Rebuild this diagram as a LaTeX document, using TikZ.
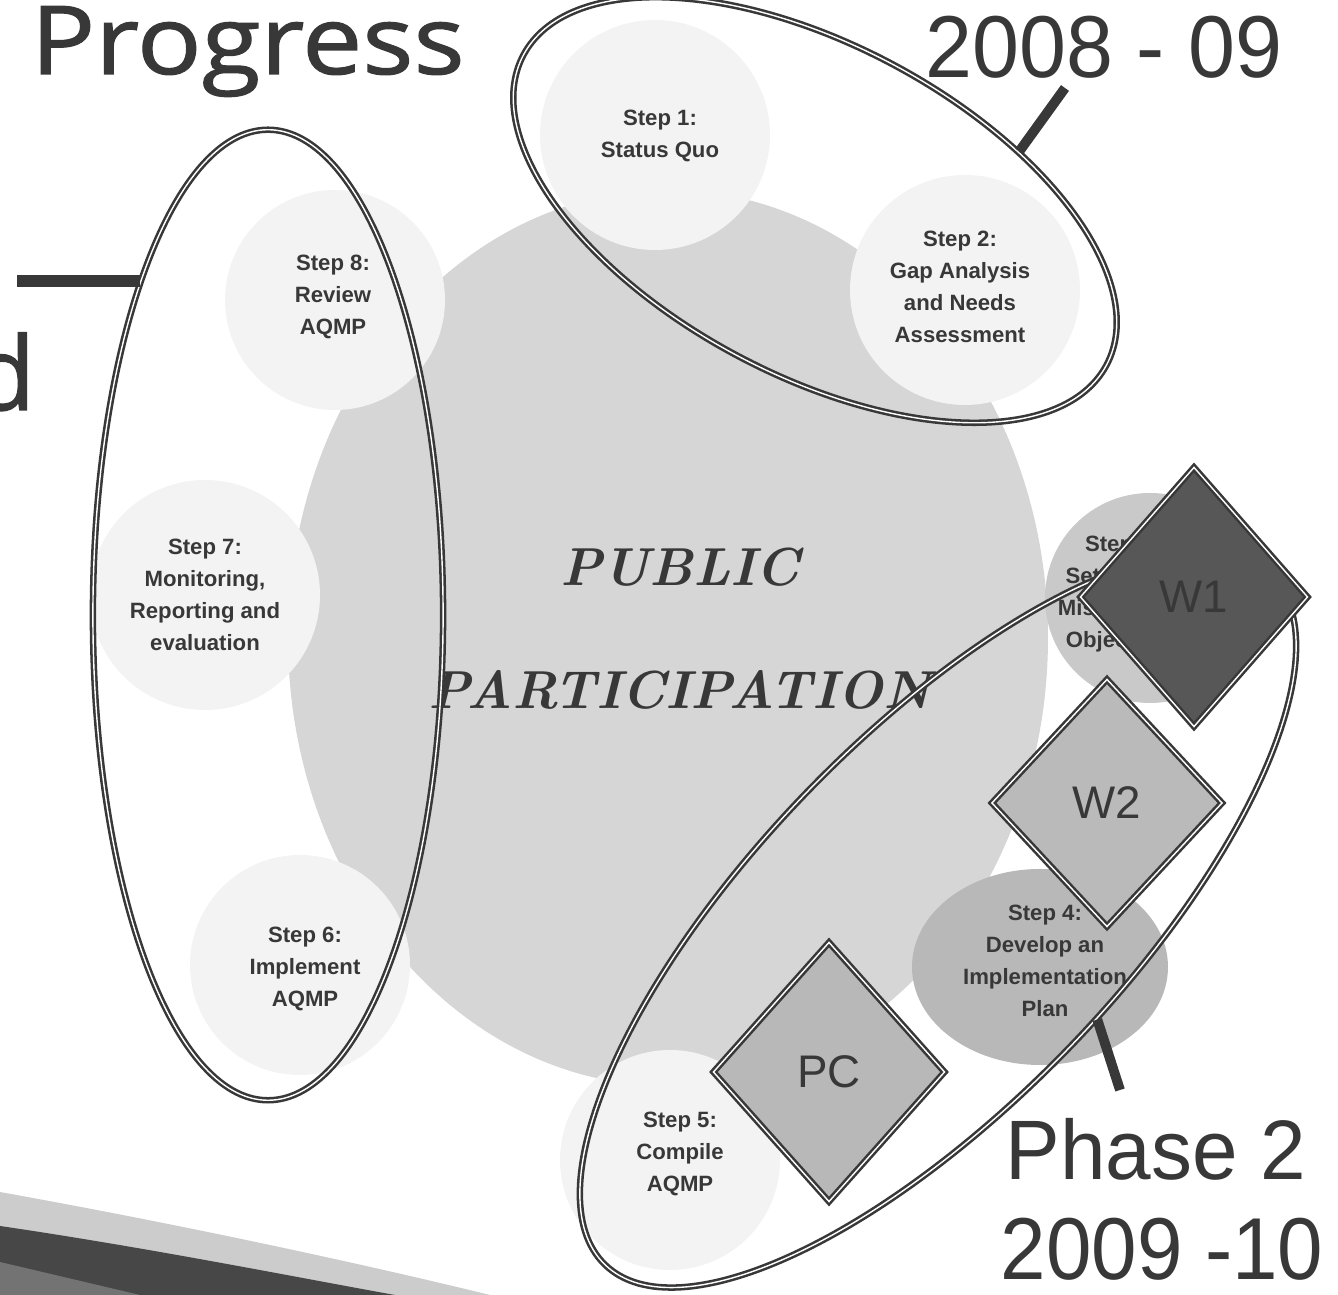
\documentclass[tikz,border=0pt]{standalone}
\usepackage{fontspec}
\newfontfamily\arialfont{Liberation Sans}
\newfontfamily\titlefont[FakeBold=1.2]{Open Sans}
\usetikzlibrary{shapes.geometric}
\definecolor{ink}{HTML}{383838}
\definecolor{body}{HTML}{D6D6D6}
\definecolor{haloc}{HTML}{F3F3F3}

\begin{document}
\begin{tikzpicture}[x=0.01cm, y=-0.01cm,
  steptext/.style={font=\arialfont\bfseries\fontsize{6.3}{9.1}\selectfont, text=ink, align=center},
  phase/.style={ellipse, draw=ink, line width=0.72pt, double=white, double distance=0.4pt, inner sep=0pt},
  marker/.style={diamond, draw=ink, line width=0.72pt, double=white, double distance=0.4pt, inner sep=0pt,
    font=\arialfont\fontsize{13}{13}\selectfont, text=ink},
  leader/.style={line width=2.8pt, draw=ink},
  bigtext/.style={font=\arialfont\fontsize{25}{25}\selectfont, text=ink, inner sep=0pt}]
\useasboundingbox (0,0) rectangle (1338,1295);

\fill[body] (668,638) ellipse [x radius=380, y radius=448];
\fill[haloc] (655,135) circle [radius=115];
\fill[haloc] (965,290) circle [radius=115];
\fill[haloc] (670,1160) circle [radius=110];
\fill[haloc] (300,965) circle [radius=110];
\fill[haloc] (205,595) circle [radius=115];
\fill[haloc] (335,300) circle [radius=110];
\fill[black!21] (1150,598) circle [radius=105];
\fill[black!28] (1040,967) ellipse [x radius=128, y radius=98];

\fill[black!20] (0,1192) .. controls (200,1228) and (380,1268) .. (490,1295) -- (0,1295) -- cycle;
\fill[black!72] (0,1226) .. controls (150,1248) and (300,1278) .. (395,1295) -- (0,1295) -- cycle;
\fill[black!55] (0,1262) -- (140,1295) -- (0,1295) -- cycle;

\node[steptext] (s1) at (660,136) {Step 1:\\Status Quo};
\node[steptext] (s2) at (960,287) {Step 2:\\Gap Analysis\\and Needs\\Assessment};
\node[steptext] (s3) at (1122,594) {Step 3:\\Set Vision,\\Mission and\\Objectives};
\node[steptext] (s4) at (1045,961) {Step 4:\\Develop an\\Implementation\\Plan};
\node[steptext] (s5) at (680,1154) {Step 5:\\Compile\\AQMP};
\node[steptext] (s6) at (305,969) {Step 6:\\Implement\\AQMP};
\node[steptext] (s7) at (205,595) {Step 7:\\Monitoring,\\Reporting and\\evaluation};
\node[steptext] (s8) at (333,297) {Step 8:\\Review\\AQMP};

\node[font=\bfseries\itshape\fontsize{15.2}{15.2}\selectfont, text=ink] (pub) at (680,567) {PUBLIC};
\node[font=\bfseries\itshape\fontsize{15.2}{15.2}\selectfont, text=ink] (part) at (680,690) {PARTICIPATION};

\node[phase, minimum width=6.6cm, minimum height=3.3cm, rotate=-28] (ph1) at (815,210) {};
\node[phase, minimum width=3.5cm, minimum height=9.7cm] (ph3) at (268,615) {};
\node[phase, minimum width=9.58cm, minimum height=3.66cm, rotate=46] (ph2) at (938,920) {};

\node[marker, fill=black!66, minimum width=2.28cm, minimum height=2.6cm] (w1) at (1194,597) {W1};
\node[marker, fill=black!27, minimum width=2.31cm, minimum height=2.48cm] (w2) at (1107,803) {W2};
\node[marker, fill=black!28, minimum width=2.32cm, minimum height=2.6cm] (pc) at (829,1072) {PC};

\node[font=\titlefont\fontsize{27}{27}\selectfont, text=ink, anchor=base west, inner sep=0pt] (title) at (30,74) {\scalebox{1.13}[1]{Progress}};
\node[font=\titlefont\fontsize{29}{29}\selectfont, text=ink, anchor=base east, inner sep=0pt] (cut) at (36,410) {d};
\node[bigtext, anchor=base west] (yr1) at (925,78) {\scalebox{0.96}[1]{2008 - 09}};
\node[bigtext, anchor=base west, font=\arialfont\fontsize{24}{24}\selectfont] (ph2name) at (1005,1180) {\scalebox{0.97}[1]{Phase 2}};
\node[bigtext, anchor=base west] (yr2) at (1000,1280) {\scalebox{0.93}[1]{2009 -10}};

\coordinate (t1) at (1065,88);
\coordinate (t3) at (17,278);
\coordinate (t2) at (1120,1090);
\draw[leader] (ph1.44) -- (t1);
\draw[leader, line width=3.4pt] (ph3.111) -- (ph3.111 -| t3);
\draw[leader] (ph2.282) -- (t2);
\end{tikzpicture}
\end{document}
